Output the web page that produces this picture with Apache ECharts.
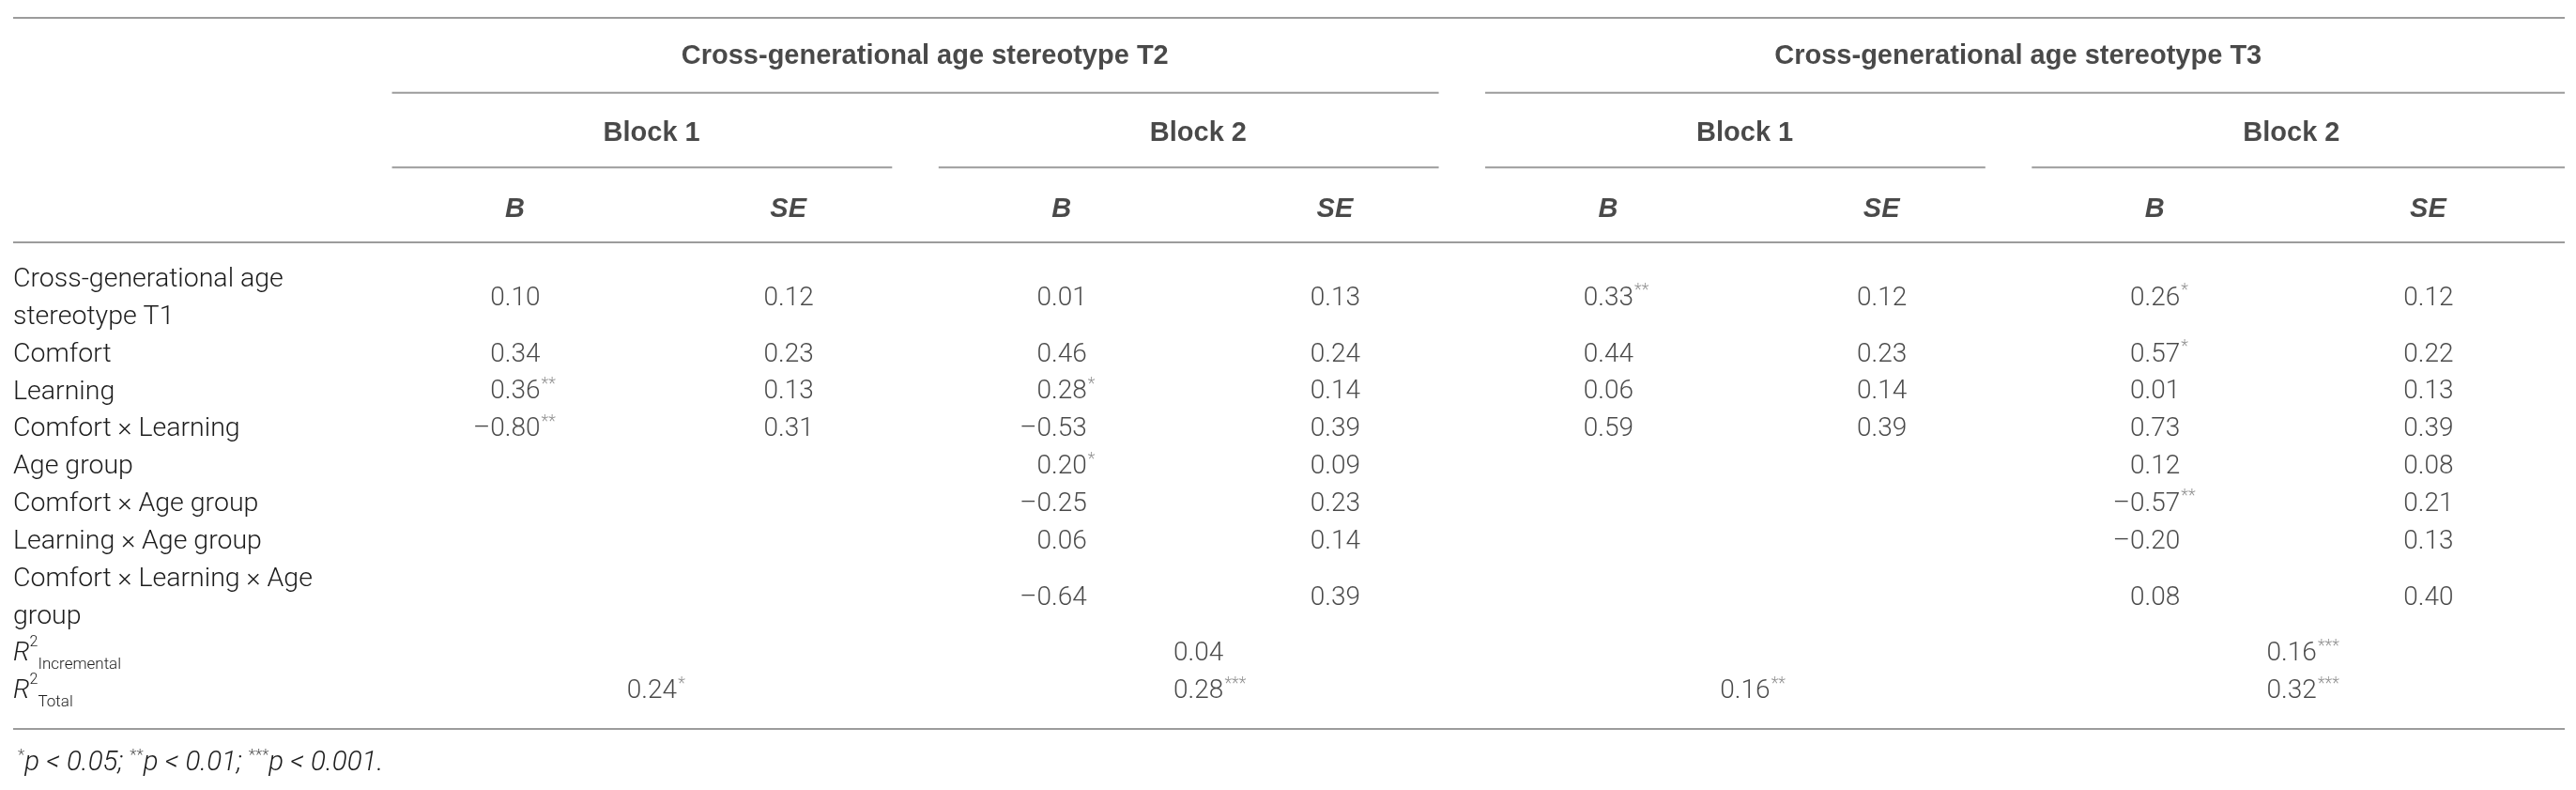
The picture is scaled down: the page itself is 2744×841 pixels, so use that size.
<!DOCTYPE html>
<html><head><meta charset="utf-8">
<script src="https://cdn.jsdelivr.net/npm/echarts@6/dist/echarts.min.js"></script>
<style>html,body{margin:0;padding:0;background:#fff}#c{width:2744px;height:841px}</style>
</head><body><div id="c"></div>
<script>
// ---------------- data ----------------
const groupTitles = ['Cross-generational age stereotype T2', 'Cross-generational age stereotype T3'];
const blockTitles = ['Block 1', 'Block 2', 'Block 1', 'Block 2'];
const statHeads = ['B', 'SE'];
const rowLabels = [
  'Cross-generational age\nstereotype T1',
  'Comfort',
  'Learning',
  'Comfort × Learning',
  'Age group',
  'Comfort × Age group',
  'Learning × Age group',
  'Comfort × Learning × Age\ngroup'
];
const r2Labels = [['R', '2', 'Incremental'], ['R', '2', 'Total']];

const t2b1B   = [0.10, 0.34, 0.36, -0.80, null, null, null, null];
const t2b1Sig = [0, 0, 2, 2, 0, 0, 0, 0];
const t2b1SE  = [0.12, 0.23, 0.13, 0.31, null, null, null, null];
const t2b2B   = [0.01, 0.46, 0.28, -0.53, 0.20, -0.25, 0.06, -0.64];
const t2b2Sig = [0, 0, 1, 0, 1, 0, 0, 0];
const t2b2SE  = [0.13, 0.24, 0.14, 0.39, 0.09, 0.23, 0.14, 0.39];
const t3b1B   = [0.33, 0.44, 0.06, 0.59, null, null, null, null];
const t3b1Sig = [2, 0, 0, 0, 0, 0, 0, 0];
const t3b1SE  = [0.12, 0.23, 0.14, 0.39, null, null, null, null];
const t3b2B   = [0.26, 0.57, 0.01, 0.73, 0.12, -0.57, -0.20, 0.08];
const t3b2Sig = [1, 1, 0, 0, 0, 2, 0, 0];
const t3b2SE  = [0.12, 0.22, 0.13, 0.39, 0.08, 0.21, 0.13, 0.40];

const r2Incremental    = [null, 0.04, null, 0.16];
const r2IncrementalSig = [0, 0, 0, 3];
const r2Total    = [0.24, 0.28, 0.16, 0.32];
const r2TotalSig = [1, 3, 2, 3];

const footnote = [['*', 'p < 0.05; '], ['**', 'p < 0.01; '], ['***', 'p < 0.001.']];

// ---------------- styles ----------------
const FONT = 'Roboto, "Liberation Sans", Arial, sans-serif';
const BOLD_FONT = '"Liberation Sans", Arial, sans-serif';
const TXT = '#1c1c1c';
const STAR = '#777';
const RULE = '#9c9c9c';
const TABLE_LEFT = 14;

// ---------------- layout derived from structure ----------------
const valueCols = [t2b1B, t2b1SE, t2b2B, t2b2SE, t3b1B, t3b1SE, t3b2B, t3b2SE];
const sigCols   = [t2b1Sig, null, t2b2Sig, null, t3b1Sig, null, t3b2Sig, null];
const nCols = valueCols.length;
const lineCounts = rowLabels.map(s => s.split('\n').length).concat(r2Labels.map(() => 1));
const rowY = [];
let acc = 0;
lineCounts.forEach(n => { rowY.push(acc + (n - 1) / 2); acc += n; });
const bodyLines = acc;
const HEAD_LEVELS = 3;
const yMin = -2 * HEAD_LEVELS - 1;
const yMax = bodyLines;
const headY = k => -2 * (HEAD_LEVELS - k);

const fmt = v => (v < 0 ? '–' : '') + Math.abs(v).toFixed(2);

const numData = [], starData = [];
valueCols.forEach((col, c) => {
  col.forEach((v, r) => {
    if (v === null) return;
    numData.push({ value: [c, rowY[r]], name: fmt(v) });
    const s = sigCols[c] ? sigCols[c][r] : 0;
    if (s > 0) starData.push({ value: [c, rowY[r]], name: '*'.repeat(s) });
  });
});
[[r2Incremental, r2IncrementalSig], [r2Total, r2TotalSig]].forEach(([vals, sigs], k) => {
  const y = rowY[rowLabels.length + k];
  vals.forEach((v, b) => {
    if (v === null) return;
    const x = 2 * b + 0.5;
    numData.push({ value: [x, y], name: fmt(v) });
    if (sigs[b] > 0) starData.push({ value: [x, y], name: '*'.repeat(sigs[b]) });
  });
});

const groupData = groupTitles.map((t, g) => ({ value: [g * 4 + 1.5, headY(0)], name: t }));
const blockData = blockTitles.map((t, b) => ({ value: [b * 2 + 0.5, headY(1)], name: t }));
const statData = [];
for (let c = 0; c < nCols; c++) statData.push({ value: [c, headY(2)], name: statHeads[c % 2] });

const rules = [];
rules.push([yMin, -1, -1]);
groupTitles.forEach((t, g) => rules.push([headY(0) + 1, g * 4, g * 4 + 3]));
blockTitles.forEach((t, b) => rules.push([headY(1) + 1, b * 2, b * 2 + 1]));
rules.push([headY(2) + 1, -1, -1]);
rules.push([bodyLines, -1, -1]);

const textSeries = (data, label) => ({
  type: 'scatter', silent: true, symbolSize: 0, itemStyle: { color: 'transparent' }, z: 3,
  data, label: Object.assign({ show: true, position: 'inside', verticalAlign: 'middle', formatter: p => p.name }, label)
});

const chart = echarts.init(document.getElementById('c'), null, { renderer: 'canvas' });
chart.setOption({
  animation: false,
  backgroundColor: '#fff',
  title: {
    left: TABLE_LEFT, top: 791,
    text: footnote.map(([s, t]) => `{st|${s}}{it|${t}}`).join(''),
    textStyle: {
      rich: {
        st: { fontFamily: FONT, fontSize: 17, fontWeight: 300, color: '#555', verticalAlign: 'top', lineHeight: 26 },
        it: { fontFamily: FONT, fontSize: 29.5, fontWeight: 300, fontStyle: 'italic', color: TXT, lineHeight: 34 }
      }
    }
  },
  grid: { left: 403, right: 12, top: 19, bottom: 65, outerBoundsMode: 'none', containLabel: false },
  xAxis: { type: 'value', min: -0.5, max: nCols - 0.5, show: false },
  yAxis: {
    type: 'value', inverse: true, min: yMin, max: yMax, interval: 0.5,
    axisLine: { show: false }, axisTick: { show: false }, splitLine: { show: false },
    axisLabel: {
      show: true, align: 'left', margin: 403 - TABLE_LEFT,
      fontFamily: FONT, fontSize: 28.5, fontWeight: 300, color: TXT, lineHeight: 40,
      showMinLabel: true, showMaxLabel: true,
      formatter: v => {
        const i = rowY.findIndex(y => Math.abs(y - v) < 1e-6);
        if (i < 0) return '';
        if (i < rowLabels.length) return rowLabels[i];
        const l = r2Labels[i - rowLabels.length];
        return `{ri|${l[0]}}{sup|${l[1]}}{sub|${l[2]}}`;
      },
      rich: {
        ri: { fontFamily: FONT, fontSize: 28.5, fontWeight: 300, fontStyle: 'italic', color: TXT, lineHeight: 40 },
        sup: { fontFamily: FONT, fontSize: 16, fontWeight: 300, color: TXT, verticalAlign: 'top', lineHeight: 29 },
        sub: { fontFamily: FONT, fontSize: 17, fontWeight: 300, color: TXT, verticalAlign: 'bottom', lineHeight: 34 }
      }
    }
  },
  series: [
    {
      type: 'custom', silent: true, clip: false, z: 1,
      data: rules,
      renderItem: (params, api) => {
        const cs = params.coordSys;
        const y = api.coord([0, api.value(0)])[1];
        const right = cs.x + cs.width;
        let x1, x2;
        if (api.value(1) < 0) { x1 = TABLE_LEFT; x2 = right; }
        else {
          x1 = api.coord([api.value(1) - 0.45, 0])[0];
          x2 = api.value(2) >= nCols - 1 ? right : api.coord([api.value(2) + 0.38, 0])[0];
        }
        return { type: 'line', shape: { x1, y1: y, x2, y2: y }, style: { stroke: RULE, lineWidth: 2 } };
      }
    },
    textSeries(numData, { align: 'right', offset: [27, 0], fontFamily: FONT, fontSize: 28, fontWeight: 300, color: TXT }),
    textSeries(starData, { align: 'left', offset: [28, -8], fontFamily: FONT, fontSize: 18, fontWeight: 300, color: STAR }),
    textSeries(groupData, { align: 'center', offset: [0, 1], fontFamily: BOLD_FONT, fontSize: 29, fontWeight: 'bold', color: TXT }),
    textSeries(blockData, { align: 'center', offset: [0, 3], fontFamily: BOLD_FONT, fontSize: 29, fontWeight: 'bold', color: TXT }),
    textSeries(statData, { align: 'center', offset: [0, 5], fontFamily: BOLD_FONT, fontSize: 29, fontWeight: 'bold', fontStyle: 'italic', color: TXT })
  ]
});
</script></body></html>
